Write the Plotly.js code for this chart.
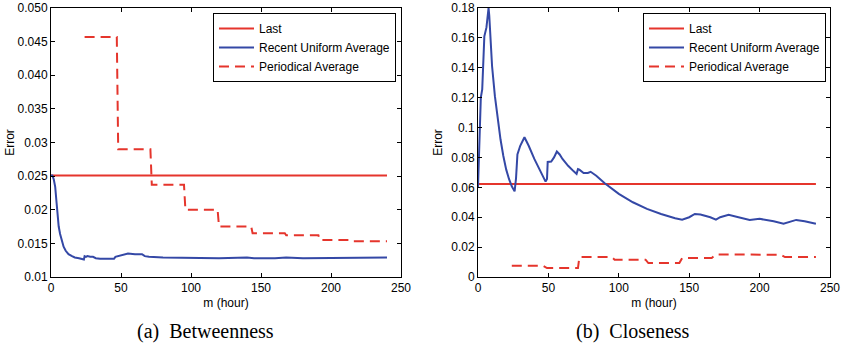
<!DOCTYPE html>
<html>
<head>
<meta charset="utf-8">
<script src="https://cdn.plot.ly/plotly-3.0.1.min.js"></script>
<style>
html,body{margin:0;padding:0;background:#fff;}
#chart{width:842px;height:349px;}
</style>
</head>
<body>
<div id="chart"></div>
<script>
// ---------- (a) Betweenness ----------
var betLastX = [0, 240];
var betLastY = [0.0251, 0.0251];

var betRecentX = [0, 1, 2, 3, 4, 4.5, 5.5, 6.5, 8, 9, 10.5, 12.5, 15, 17, 20, 23, 23.5, 24, 25, 26, 27, 28, 30, 32, 35, 40, 45, 46, 48, 50, 52, 55, 60, 65, 67, 70, 80, 100, 120, 140, 145, 160, 168, 180, 200, 220, 240];
var betRecentY = [0.0251, 0.0251, 0.0245, 0.0234, 0.0210, 0.0194, 0.0175, 0.0164, 0.0152, 0.0145, 0.0139, 0.0134, 0.0131, 0.0129, 0.0128, 0.0127, 0.0126, 0.0131, 0.0130, 0.0131, 0.0130, 0.0130, 0.0130, 0.0128, 0.0127, 0.0127, 0.0127, 0.0130, 0.0131, 0.0132, 0.0134, 0.0135, 0.0134, 0.0134, 0.0131, 0.0130, 0.0129, 0.0128, 0.0128, 0.0129, 0.0128, 0.0128, 0.0129, 0.0128, 0.0128, 0.0129, 0.0129];

var betPeriodX = [24, 47, 48, 71, 72, 95, 96, 119, 120, 143, 144, 167, 168, 191, 192, 215, 216, 240];
var betPeriodY = [0.0457, 0.0457, 0.0290, 0.0290, 0.0237, 0.0237, 0.0200, 0.0200, 0.0175, 0.0175, 0.0165, 0.0165, 0.0162, 0.0162, 0.0155, 0.0155, 0.0153, 0.0153];

// ---------- (b) Closeness ----------
var cloLastX = [0, 240];
var cloLastY = [0.0622, 0.0622];

var cloRecentX = [0, 2, 3, 4.5, 6, 7.5, 8, 10, 12, 14, 16, 18, 20, 22, 24, 26, 27, 28, 30, 33, 36, 40, 44, 48, 49, 49.5, 52, 54, 56, 58, 60, 64, 68, 70, 71, 72, 75, 78, 80, 84, 90, 100, 110, 120, 130, 140, 145, 150, 154, 158, 165, 169, 172, 178, 185, 193, 200, 210, 217, 222, 226, 232, 240];
var cloRecentY = [0.060, 0.120, 0.1256, 0.161, 0.167, 0.180, 0.175, 0.141, 0.121, 0.1056, 0.092, 0.081, 0.072, 0.0656, 0.0607, 0.0573, 0.066, 0.082, 0.0878, 0.0935, 0.0878, 0.079, 0.071, 0.0638, 0.0656, 0.077, 0.0773, 0.080, 0.084, 0.082, 0.079, 0.0744, 0.0707, 0.069, 0.0722, 0.0718, 0.0696, 0.0696, 0.0704, 0.0678, 0.0627, 0.0556, 0.0500, 0.0456, 0.0422, 0.0393, 0.0384, 0.0400, 0.0422, 0.0418, 0.0400, 0.0384, 0.0400, 0.0416, 0.0400, 0.0382, 0.0389, 0.0373, 0.0356, 0.0371, 0.0382, 0.0373, 0.0356];

var cloPeriodX = [24, 46, 49, 71, 72, 95, 97, 119, 121, 143, 145, 166, 169, 191, 192, 215, 218, 240];
var cloPeriodY = [0.0076, 0.0076, 0.0060, 0.0060, 0.0133, 0.0133, 0.0116, 0.0116, 0.0093, 0.0093, 0.0127, 0.0127, 0.0151, 0.0151, 0.0149, 0.0149, 0.0133, 0.0133];

// tick labels
var xTicks = [0, 50, 100, 150, 200, 250];
var betYTicks = [0.01, 0.015, 0.02, 0.025, 0.03, 0.035, 0.04, 0.045, 0.05];
var betYText = ['0.01', '0.015', '0.02', '0.025', '0.03', '0.035', '0.040', '0.045', '0.050'];
var cloYTicks = [0, 0.02, 0.04, 0.06, 0.08, 0.1, 0.12, 0.14, 0.16, 0.18];
var cloYText = ['0', '0.02', '0.04', '0.06', '0.08', '0.1', '0.12', '0.14', '0.16', '0.18'];

var seriesNames = ['Last', 'Recent Uniform Average', 'Periodical Average'];
var captions = ['(a)  Betweenness', '(b)  Closeness'];
var RED = '#e5352c';
var BLUE = '#3448a6';
var DASH = '10px,6px';

var traces = [
  {x: betLastX, y: betLastY, name: seriesNames[0], mode: 'lines', line: {color: RED, width: 2}, xaxis: 'x', yaxis: 'y', legend: 'legend'},
  {x: betRecentX, y: betRecentY, name: seriesNames[1], mode: 'lines', line: {color: BLUE, width: 2}, xaxis: 'x', yaxis: 'y', legend: 'legend'},
  {x: betPeriodX, y: betPeriodY, name: seriesNames[2], mode: 'lines', line: {color: RED, width: 2, dash: DASH}, xaxis: 'x', yaxis: 'y', legend: 'legend'},
  {x: cloLastX, y: cloLastY, name: seriesNames[0], mode: 'lines', line: {color: RED, width: 2}, xaxis: 'x2', yaxis: 'y2', legend: 'legend2'},
  {x: cloRecentX, y: cloRecentY, name: seriesNames[1], mode: 'lines', line: {color: BLUE, width: 2}, xaxis: 'x2', yaxis: 'y2', legend: 'legend2'},
  {x: cloPeriodX, y: cloPeriodY, name: seriesNames[2], mode: 'lines', line: {color: RED, width: 2, dash: DASH}, xaxis: 'x2', yaxis: 'y2', legend: 'legend2'}
];

var W = 842, H = 349;
function px(v) { return v / W; }
function py(v) { return (H - v) / H; }

var SANS = 'Liberation Sans, Arial, sans-serif';
var tickFont = {family: SANS, size: 12, color: '#000'};
function xAxis(dom, anchor) {
  return {
    domain: dom, anchor: anchor, range: [0, 250], tickvals: xTicks,
    ticks: 'inside', ticklen: 4, tickcolor: '#000', showline: true, linecolor: '#000', linewidth: 1,
    mirror: 'ticks', showgrid: false, zeroline: false, tickfont: tickFont,
    title: {text: 'm (hour)', font: {family: SANS, size: 12, color: '#000'}, standoff: 4}
  };
}
function yAxis(dom, anchor, rng, vals, txt, standoff) {
  return {
    domain: dom, anchor: anchor, range: rng, tickvals: vals, ticktext: txt,
    ticks: 'inside', ticklen: 4, tickcolor: '#000', showline: true, linecolor: '#000', linewidth: 1,
    mirror: 'ticks', showgrid: false, zeroline: false, tickfont: tickFont,
    title: {text: 'Error', font: {family: SANS, size: 12, color: '#000'}, standoff: standoff}
  };
}

var yDom = [py(277), py(8)];
var legendCommon = {
  bgcolor: '#fff', bordercolor: '#000', borderwidth: 1,
  font: {family: SANS, size: 12, color: '#000'},
  xanchor: 'left', yanchor: 'top', tracegroupgap: 0, itemwidth: 35
};

var layout = {
  width: W, height: H,
  margin: {l: 0, r: 0, t: 0, b: 0},
  paper_bgcolor: '#fff', plot_bgcolor: '#fff',
  showlegend: true,
  xaxis: xAxis([px(51), px(401)], 'y'),
  yaxis: yAxis(yDom, 'x', [0.01, 0.05], betYTicks, betYText, 0),
  xaxis2: xAxis([px(478), px(830)], 'y2'),
  yaxis2: yAxis(yDom, 'x2', [0, 0.18], cloYTicks, cloYText, 6),
  legend: Object.assign({x: px(213), y: py(13)}, legendCommon),
  legend2: Object.assign({x: px(643), y: py(13)}, legendCommon),
  annotations: [
    {text: captions[0], xref: 'paper', yref: 'paper', x: px(205), y: py(331), xanchor: 'center', yanchor: 'middle', showarrow: false,
     font: {family: 'Liberation Serif, Times New Roman, serif', size: 20, color: '#000'}},
    {text: captions[1], xref: 'paper', yref: 'paper', x: px(633), y: py(331), xanchor: 'center', yanchor: 'middle', showarrow: false,
     font: {family: 'Liberation Serif, Times New Roman, serif', size: 20, color: '#000'}}
  ]
};

Plotly.newPlot('chart', traces, layout, {displayModeBar: false, staticPlot: true});
</script>
</body>
</html>
